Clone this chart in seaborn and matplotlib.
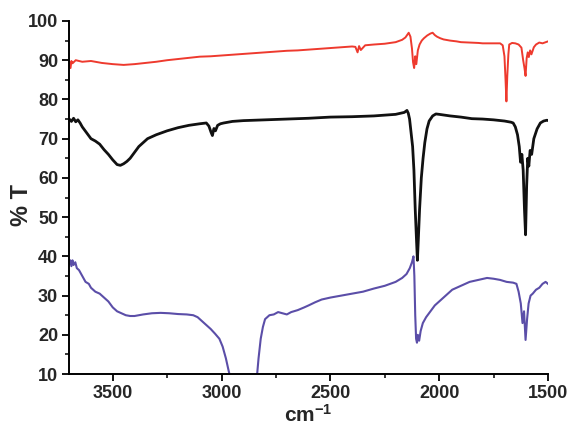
import numpy as np
import pandas as pd
import matplotlib
matplotlib.use("Agg")
import matplotlib.pyplot as plt
from matplotlib.ticker import MultipleLocator
import seaborn as sns

# ─────────────────────────────────────────────
# DATA
# ─────────────────────────────────────────────
red_x = [3700, 3694, 3690, 3685, 3670, 3640, 3600, 3550, 3500, 3450, 3400, 3350,
         3300, 3250, 3200, 3150, 3100, 3050, 3000, 2950, 2900, 2850, 2800, 2750,
         2700, 2650, 2600, 2550, 2500, 2450, 2400, 2385, 2375, 2368, 2360, 2340,
         2300, 2250, 2200, 2170, 2155, 2140, 2132, 2125, 2120, 2115, 2110, 2105,
         2098, 2090, 2080, 2070, 2055, 2040, 2030, 2020, 2010, 1995, 1980, 1950,
         1920, 1900, 1860, 1820, 1800, 1760, 1720, 1708, 1700, 1695, 1691, 1687,
         1682, 1678, 1665, 1650, 1635, 1622, 1614, 1608, 1603, 1598, 1593, 1588,
         1582, 1576, 1565, 1555, 1540, 1525, 1510, 1500, 1490]
red_y = [89.5, 88.0, 89.8, 89.2, 90.0, 89.6, 89.8, 89.3, 89.0, 88.8, 89.0, 89.3,
         89.6, 90.0, 90.3, 90.6, 90.9, 91.0, 91.2, 91.4, 91.6, 91.8, 92.0, 92.2,
         92.4, 92.5, 92.7, 92.9, 93.1, 93.3, 93.5, 93.4, 92.0, 93.6, 92.6, 93.8,
         94.0, 94.2, 94.6, 95.2, 95.8, 97.0, 96.0, 93.0, 89.5, 88.0, 91.0, 89.0,
         92.5, 94.0, 95.0, 95.6, 96.3, 96.8, 97.0, 96.4, 96.0, 95.6, 95.3, 95.0,
         94.8, 94.6, 94.5, 94.4, 94.3, 94.3, 94.3, 93.8, 91.0, 85.0, 79.5, 86.0,
         91.5, 94.0, 94.4, 94.3, 94.0, 93.2, 90.0, 88.0, 86.0, 90.5, 92.0, 90.8,
         92.5, 91.5, 93.3, 94.0, 94.5, 94.3, 94.6, 94.8, 94.5]

black_x = [3700, 3690, 3680, 3670, 3660, 3650, 3640, 3620, 3600, 3580, 3560, 3540,
           3520, 3500, 3480, 3465, 3450, 3435, 3420, 3400, 3380, 3360, 3340, 3300,
           3250, 3200, 3150, 3100, 3070, 3058, 3048, 3042, 3035, 3028, 3018, 3005,
           2990, 2950, 2900, 2800, 2700, 2600, 2500, 2400, 2300, 2200, 2160, 2148,
           2142, 2136, 2130, 2122, 2116, 2110, 2104, 2100, 2096, 2090, 2082, 2074,
           2066, 2056, 2046, 2030, 2015, 2000, 1950, 1900, 1850, 1800, 1750, 1700,
           1670, 1660, 1650, 1640, 1632, 1626, 1620, 1614, 1608, 1603, 1598, 1593,
           1588, 1582, 1575, 1565, 1550, 1535, 1520, 1505, 1490]
black_y = [75.0, 74.4, 75.2, 74.3, 74.8, 74.0, 73.0, 71.5, 70.0, 69.4, 68.6, 67.2,
           66.0, 64.6, 63.4, 63.2, 63.6, 64.2, 65.0, 66.5, 68.0, 69.0, 70.0, 71.0,
           72.0, 72.8, 73.4, 73.8, 74.0, 73.2, 71.6, 70.8, 72.6, 72.0, 73.4, 73.8,
           74.0, 74.4, 74.6, 74.8, 75.0, 75.2, 75.5, 75.6, 75.8, 76.2, 76.7, 77.2,
           76.5, 75.0, 72.0, 68.0, 62.0, 52.0, 44.0, 39.0, 44.0, 52.0, 60.0, 65.0,
           69.0, 72.5, 74.5, 75.8, 76.3, 76.2, 75.8, 75.5, 75.1, 75.0, 74.8, 74.5,
           74.2, 74.0, 73.0, 71.0, 68.0, 64.0, 66.0, 62.0, 52.0, 45.5, 58.0, 65.0,
           63.0, 67.0, 66.0, 70.0, 72.5, 74.0, 74.5, 74.7, 74.5]

purple_x = [3700, 3695, 3690, 3685, 3680, 3672, 3665, 3655, 3640, 3625, 3610, 3600,
            3580, 3560, 3540, 3520, 3500, 3480, 3460, 3440, 3420, 3400, 3360, 3320,
            3280, 3240, 3200, 3160, 3130, 3110, 3090, 3070, 3050, 3030, 3010, 2995,
            2980, 2968, 2955, 2940, 2850, 2838, 2830, 2820, 2810, 2800, 2780, 2760,
            2740, 2720, 2700, 2680, 2650, 2620, 2600, 2570, 2540, 2500, 2450, 2400,
            2350, 2300, 2250, 2200, 2170, 2150, 2135, 2125, 2118, 2114, 2110, 2106,
            2102, 2098, 2092, 2085, 2075, 2060, 2040, 2020, 2000, 1970, 1940, 1900,
            1860, 1820, 1780, 1750, 1720, 1690, 1660, 1645, 1635, 1625, 1617, 1610,
            1603, 1596, 1589, 1580, 1570, 1555, 1540, 1525, 1511, 1500, 1490]
purple_y = [38.0, 39.0, 37.5, 39.0, 37.8, 38.5, 37.0, 36.5, 35.0, 33.5, 33.0, 32.0,
            31.0, 30.5, 29.5, 28.5, 27.0, 26.0, 25.5, 25.0, 24.8, 24.8, 25.2, 25.5,
            25.6, 25.5, 25.3, 25.2, 25.0, 24.5, 23.5, 22.5, 21.5, 20.3, 19.0, 17.0,
            14.0, 11.0, 8.0, 6.0, 6.0, 9.0, 14.0, 19.0, 22.0, 24.0, 25.0, 25.2,
            25.8, 25.5, 25.2, 25.8, 26.3, 27.0, 27.5, 28.3, 29.0, 29.5, 30.0, 30.5,
            31.0, 31.8, 32.5, 33.5, 34.5, 35.5, 37.0, 38.5, 40.0, 35.0, 25.0, 19.0,
            18.0, 20.0, 18.5, 21.0, 23.0, 24.5, 26.0, 27.5, 28.5, 30.0, 31.5, 32.5,
            33.5, 34.0, 34.5, 34.3, 34.0, 33.5, 33.3, 33.0, 31.0, 28.0, 23.0, 26.0,
            18.7, 24.0, 28.0, 30.0, 30.5, 31.5, 32.0, 33.0, 33.5, 33.0, 32.5]

x_ticks = [3500, 3000, 2500, 2000, 1500]
y_ticks = [10, 20, 30, 40, 50, 60, 70, 80, 90, 100]

# ─────────────────────────────────────────────
# PLOT
# ─────────────────────────────────────────────
sns.set_style("ticks")
plt.rcParams["font.family"] = ["Liberation Sans", "DejaVu Sans"]
plt.rcParams["mathtext.fontset"] = "custom"
plt.rcParams["mathtext.bf"] = "Liberation Sans:bold"
plt.rcParams["mathtext.rm"] = "Liberation Sans"

fig, ax = plt.subplots(figsize=(5.72, 4.28), dpi=100)
fig.subplots_adjust(left=0.121, right=0.958, bottom=0.126, top=0.951)

spectra = [
    (red_x, red_y, "#ee3a2e", 1.4),
    (black_x, black_y, "#111111", 2.0),
    (purple_x, purple_y, "#5b4ea8", 1.5),
]
for xs, ys, col, lw in spectra:
    df = pd.DataFrame({"wavenumber": xs, "T": ys})
    sns.lineplot(data=df, x="wavenumber", y="T", color=col, linewidth=lw,
                 estimator=None, sort=False, ax=ax)

ax.set_xlim(3700, 1500)
ax.set_ylim(10, 100)
ax.set_xticks(x_ticks)
ax.set_yticks(y_ticks)
ax.xaxis.set_minor_locator(MultipleLocator(250))
ax.yaxis.set_minor_locator(MultipleLocator(5))

ax.tick_params(which="major", direction="out", length=5, width=1.3,
               labelsize=13, color="black", pad=3)
ax.tick_params(which="minor", direction="out", length=3, width=1.1, color="black")
for lab in ax.get_xticklabels() + ax.get_yticklabels():
    lab.set_fontweight("bold")

ax.set_xlabel(r"$\mathbf{cm^{-1}}$", fontsize=15, labelpad=1)
ax.set_ylabel("% T", fontsize=17, fontweight="bold")
ax.yaxis.set_label_coords(-0.076, 0.48)

sns.despine(ax=ax)
for side in ["left", "bottom"]:
    ax.spines[side].set_linewidth(1.4)
    ax.spines[side].set_color("black")

plt.savefig("out.png", dpi=100)
plt.close()
